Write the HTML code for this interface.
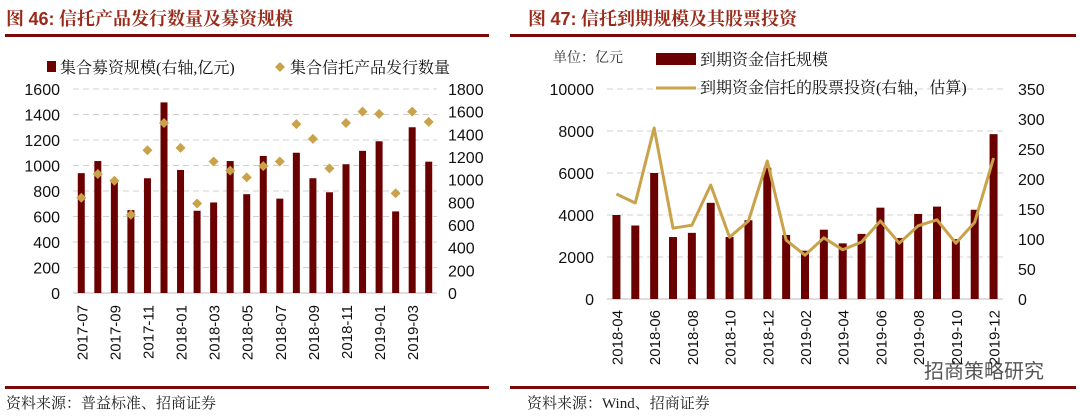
<!DOCTYPE html>
<html><head><meta charset="utf-8"><style>
body{margin:0;background:#fff;width:1080px;height:417px;overflow:hidden;font-family:"Liberation Sans","Noto Sans CJK SC",sans-serif}
svg{display:block}
</style></head><body>
<svg width="1080" height="417" viewBox="0 0 1080 417">
<g font-family="'Liberation Serif','Noto Serif CJK SC',serif" fill="#9a2a1a" font-size="18" font-weight="bold">
<text x="6" y="25">图 <tspan font-family="'Liberation Sans',sans-serif">46:</tspan> 信托产品发行数量及募资规模</text>
<text x="528" y="25">图 <tspan font-family="'Liberation Sans',sans-serif">47:</tspan> 信托到期规模及其股票投资</text>
</g>
<rect x="5" y="34" width="484" height="3" fill="#7a0a0a"/>
<rect x="510" y="34" width="566" height="3" fill="#7a0a0a"/>
<rect x="5" y="386" width="484" height="3" fill="#7a0a0a"/>
<rect x="510" y="386" width="566" height="3" fill="#7a0a0a"/>
<g font-family="'Liberation Serif','Noto Serif CJK SC',serif" font-size="15" fill="#222">
<text x="6" y="408">资料来源：普益标准、招商证券</text>
<text x="527" y="408">资料来源：Wind、招商证券</text>
</g>
<text x="1044" y="378" font-size="20" fill="#555" text-anchor="end" font-family="'Noto Sans CJK SC',sans-serif">招商策略研究</text>
<g id="left"></g>
<g id="right"></g>
</svg>
<script>
const leftCats=["2017-07","2017-08","2017-09","2017-10","2017-11","2017-12","2018-01","2018-02","2018-03","2018-04","2018-05","2018-06","2018-07","2018-08","2018-09","2018-10","2018-11","2018-12","2019-01","2019-02","2019-03","2019-04"];
const leftBars=[940,1035,880,650,900,1495,965,645,710,1035,775,1075,740,1100,900,790,1010,1115,1190,640,1300,1030];
const leftDots=[840,1050,990,690,1260,1500,1280,790,1160,1080,1020,1120,1160,1490,1360,1100,1500,1600,1580,880,1600,1510];
const leftTicksL=[0,200,400,600,800,1000,1200,1400,1600];
const leftTicksR=[0,200,400,600,800,1000,1200,1400,1600,1800];
const rightCats=["2018-04","2018-05","2018-06","2018-07","2018-08","2018-09","2018-10","2018-11","2018-12","2019-01","2019-02","2019-03","2019-04","2019-05","2019-06","2019-07","2019-08","2019-09","2019-10","2019-11","2019-12"];
const rightBars=[4000,3500,6000,2950,3150,4580,2950,3750,6250,3050,2300,3300,2650,3100,4350,2900,4050,4400,2850,4250,7850];
const rightLine=[175,160,285,118,123,190,103,130,230,98,73,102,82,95,130,93,122,132,93,128,235];
const rightTicksL=[0,2000,4000,6000,8000,10000];
const rightTicksR=[0,50,100,150,200,250,300,350];
const NS="http://www.w3.org/2000/svg";
function mk(p,t,a){const e=document.createElementNS(NS,t);for(const k in a)e.setAttribute(k,a[k]);p.appendChild(e);return e;}
const BAR="#6b0000",GOLD="#c9a24a";
(function(){
const g=document.getElementById('left');
const x0=73,x1=437,yB=293,yT=89,maxL=1600,maxR=1800;
const yL=v=>yB-(v/maxL)*(yB-yT), yR=v=>yB-(v/maxR)*(yB-yT);
const step=(x1-x0)/leftCats.length, xc=i=>x0+step*(i+0.5);
leftTicksL.forEach(v=>{
 const l=mk(g,'line',{x1:x0,x2:x1,y1:yL(v),y2:yL(v),stroke:v?'#d0d0d0':'#bbb','stroke-dasharray':v?'6,4':'','stroke-width':1});
 
 const t=mk(g,'text',{x:60,y:yL(v)+6,'text-anchor':'end','font-size':16,fill:'#111'});t.textContent=v;
 
});
leftTicksR.forEach(v=>{const t=mk(g,'text',{x:448,y:yR(v)+6,'font-size':16,fill:'#111'});t.textContent=v;
 });
leftBars.forEach((v,i)=>{const r=mk(g,'rect',{x:xc(i)-3.5,y:yL(v),width:7,height:yB-yL(v),fill:BAR});
 });
leftDots.forEach((v,i)=>{const x=xc(i),y=yR(v);const p=mk(g,'polygon',{points:`${x},${y-5} ${x+5},${y} ${x},${y+5} ${x-5},${y}`,fill:GOLD});
 });
leftCats.forEach((c,i)=>{if(i%2)return;const t=mk(g,'text',{transform:`translate(${xc(i)+6},305) rotate(-90)`,'text-anchor':'end','font-size':15,fill:'#111'});t.textContent=c;
 });
const lr=mk(g,'rect',{x:47,y:61,width:9,height:11,fill:BAR});
const lt=mk(g,'text',{x:60,y:73,'font-size':16,fill:'#111','font-family':"'Liberation Serif','Noto Serif CJK SC',serif"});lt.textContent='集合募资规模(右轴,亿元)';

const ld=mk(g,'polygon',{points:'280,62 285,67 280,72 275,67',fill:GOLD});
const lt2=mk(g,'text',{x:290,y:73,'font-size':16,fill:'#111','font-family':"'Liberation Serif','Noto Serif CJK SC',serif"});lt2.textContent='集合信托产品发行数量';

})();
(function(){
const g=document.getElementById('right');
const x0=607,x1=1003,yB=299,yT=89,maxL=10000,maxR=350;
const yL=v=>yB-(v/maxL)*(yB-yT), yR=v=>yB-(v/maxR)*(yB-yT);
const step=(x1-x0)/rightCats.length, xc=i=>x0+step*(i+0.5);
rightTicksL.forEach(v=>{
 const l=mk(g,'line',{x1:x0,x2:x1,y1:yL(v),y2:yL(v),stroke:v?'#d0d0d0':'#bbb','stroke-dasharray':v?'6,4':'','stroke-width':1});
 
 const t=mk(g,'text',{x:594,y:yL(v)+6,'text-anchor':'end','font-size':16,fill:'#111'});t.textContent=v;
 
});
rightTicksR.forEach(v=>{const t=mk(g,'text',{x:1018,y:yR(v)+6,'font-size':16,fill:'#111'});t.textContent=v;
 });
rightBars.forEach((v,i)=>{const r=mk(g,'rect',{x:xc(i)-4,y:yL(v),width:8,height:yB-yL(v),fill:BAR});
 });
const pl=mk(g,'polyline',{points:rightLine.map((v,i)=>xc(i)+','+yR(v)).join(' '),fill:'none',stroke:GOLD,'stroke-width':3,'stroke-linejoin':'round'});

rightCats.forEach((c,i)=>{if(i%2)return;const t=mk(g,'text',{transform:`translate(${xc(i)+6},310) rotate(-90)`,'text-anchor':'end','font-size':15,fill:'#111'});t.textContent=c;
 });
const f="'Liberation Serif','Noto Serif CJK SC',serif";
const u=mk(g,'text',{x:553,y:62,'font-size':14,fill:'#333','font-family':f});u.textContent='单位：亿元';

const lr=mk(g,'rect',{x:656,y:53,width:40,height:12,fill:BAR});
const lt=mk(g,'text',{x:700,y:65,'font-size':16,fill:'#111','font-family':f});lt.textContent='到期资金信托规模';

const ll=mk(g,'line',{x1:656,x2:696,y1:88,y2:88,stroke:GOLD,'stroke-width':3});
const lt2=mk(g,'text',{x:700,y:93,'font-size':16,fill:'#111','font-family':f});lt2.textContent='到期资金信托的股票投资(右轴，估算)';

})();
</script>
</body></html>
